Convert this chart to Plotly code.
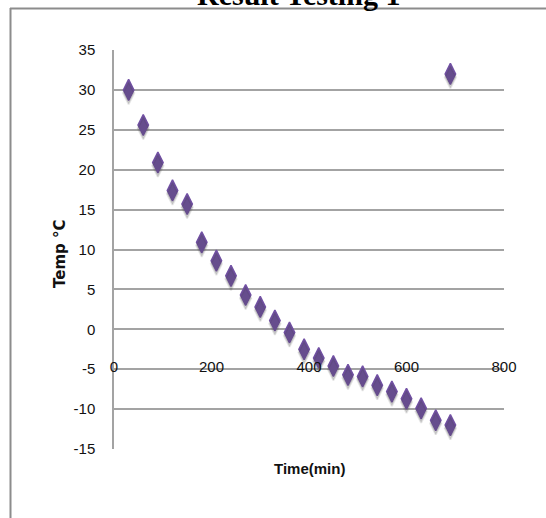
import plotly.graph_objects as go

# ---- data ----
time_min = [30, 60, 90, 120, 150, 180, 210, 240, 270, 300, 330, 360, 390,
            420, 450, 480, 510, 540, 570, 600, 630, 660, 690, 690]
temp_c = [30.0, 25.6, 20.9, 17.4, 15.7, 10.9, 8.6, 6.7, 4.3, 2.8, 1.1, -0.4, -2.5,
          -3.6, -4.6, -5.7, -5.9, -7.0, -7.8, -8.7, -9.9, -11.4, -12.0, 32.0]
x_ticks = [0, 200, 400, 600, 800]
y_ticks = [-15, -10, -5, 0, 5, 10, 15, 20, 25, 30, 35]
title_text = "Result Testing 1"
x_title = "Time(min)"
y_title = "Temp °C"

# ---- layout geometry (pixels) ----
W, H = 546, 518
ML, MR, MT, MB = 114, 42, 50, 69
PW, PH = W - ML - MR, H - MT - MB
Y_RANGE = [-15, 35]
SHADOW_SHIFT = 0.4  # shadow drawn slightly lower (axis units)


def px_x(px):
    return (px - ML) / PW


def px_y(py):
    return (H - MB - py) / PH


GRID = "#a3a3a3"
PURPLE = "#7352a5"
TICKFONT = dict(family="Liberation Sans, Arial, sans-serif", size=15, color="#111111")

fig = go.Figure()
# soft shadow under each marker (same data, on an overlaid axis shifted a little)
fig.add_trace(go.Scatter(
    x=time_min, y=temp_c, mode="markers", yaxis="y2",
    marker=dict(symbol="diamond-tall", size=16, color="rgba(60,60,60,0.22)",
                line=dict(color="rgba(60,60,60,0.12)", width=2)),
    showlegend=False, hoverinfo="skip",
))
fig.add_trace(go.Scatter(
    x=time_min, y=temp_c, mode="markers",
    marker=dict(symbol="diamond-tall", size=15, color=PURPLE,
                line=dict(color=PURPLE, width=1.5)),
    showlegend=False, hoverinfo="x+y",
))

fig.update_layout(
    width=W, height=H,
    margin=dict(l=ML, r=MR, t=MT, b=MB),
    paper_bgcolor="white", plot_bgcolor="white",
    xaxis=dict(range=[0, 800], tickvals=x_ticks, ticktext=[str(v) for v in x_ticks],
               showgrid=False, zeroline=False, showline=False, ticks="",
               anchor="free", position=px_y(356), tickfont=TICKFONT,
               automargin=False, fixedrange=True),
    yaxis=dict(range=Y_RANGE, tickvals=y_ticks, ticktext=[str(v) for v in y_ticks],
               showgrid=True, gridcolor=GRID, gridwidth=1.5,
               zeroline=True, zerolinecolor=GRID, zerolinewidth=1.5,
               showline=True, linecolor=GRID, linewidth=1.5, ticks="",
               ticklabelstandoff=14, tickfont=TICKFONT,
               automargin=False, fixedrange=True),
    yaxis2=dict(range=[Y_RANGE[0] + SHADOW_SHIFT, Y_RANGE[1] + SHADOW_SHIFT],
                overlaying="y", visible=False, fixedrange=True),
    annotations=[
        dict(text="<b>" + title_text + "</b>", xref="paper", yref="paper",
             x=px_x(298), y=px_y(-6), xanchor="center", yanchor="middle",
             showarrow=False,
             font=dict(family="Liberation Serif, Times New Roman, serif", size=30, color="black")),
        dict(text="<b>" + x_title + "</b>", xref="paper", yref="paper",
             x=px_x(309), y=px_y(468), xanchor="center", yanchor="middle",
             showarrow=False,
             font=dict(family="Liberation Sans, Arial, sans-serif", size=15, color="#111111")),
        dict(text="<b>" + y_title + "</b>", xref="paper", yref="paper",
             x=px_x(60), y=px_y(254), xanchor="center", yanchor="middle",
             textangle=-90, showarrow=False,
             font=dict(family="DejaVu Sans, sans-serif", size=15, color="#111111")),
    ],
    shapes=[
        dict(type="line", xref="paper", yref="paper",
             x0=px_x(10), x1=px_x(W + 5), y0=px_y(8.5), y1=px_y(8.5),
             line=dict(color="#8c8c8c", width=2)),
        dict(type="line", xref="paper", yref="paper",
             x0=px_x(10.5), x1=px_x(10.5), y0=px_y(8), y1=px_y(H + 5),
             line=dict(color="#8c8c8c", width=2)),
    ],
)

fig.write_html("out.html")
